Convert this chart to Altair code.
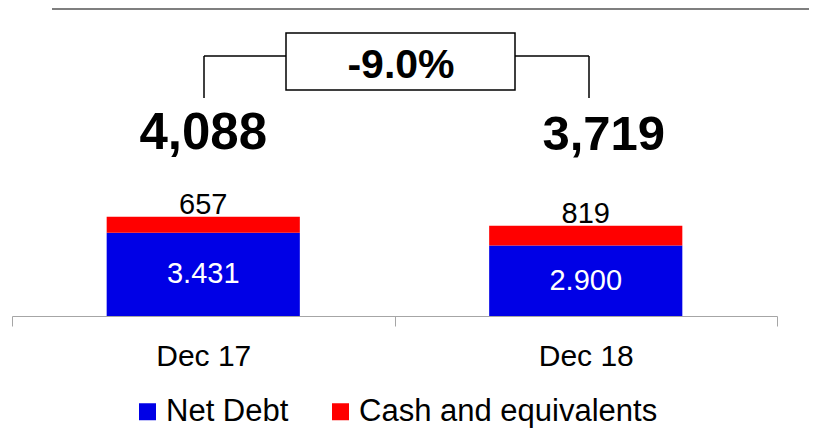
import altair as alt
import pandas as pd

# ---- data ----
categories = ["Dec 17", "Dec 18"]
net_debt = [3431, 2900]
cash = [657, 819]
totals = [4088, 3719]
net_debt_labels = ["3.431", "2.900"]
cash_labels = ["657", "819"]
total_labels = ["4,088", "3,719"]
change_label = "-9.0%"
series = ["Net Debt", "Cash and equivalents"]
colors = ["#0000E6", "#FF0000"]

FONT = "Liberation Sans"

rows = []
for i, c in enumerate(categories):
    rows.append({"cat": c, "series": series[0], "value": net_debt[i], "ord": 0})
    rows.append({"cat": c, "series": series[1], "value": cash[i], "ord": 1})
bars_df = pd.DataFrame(rows)

lab_df = pd.DataFrame({
    "cat": categories,
    "net": net_debt,
    "mid": [v / 2 for v in net_debt],
    "total": totals,
    "net_lab": net_debt_labels,
    "cash_lab": cash_labels,
    "tot_lab": total_labels,
})

x_enc = alt.X(
    "cat:N",
    sort=categories,
    scale=alt.Scale(paddingInner=0, paddingOuter=0),
    axis=alt.Axis(
        title=None, labelAngle=0, labelFont=FONT, labelFontSize=30,
        labelColor="#000000", domainColor="#A6A6A6", tickColor="#A6A6A6",
        tickSize=10, tickBand="extent", labelPadding=15, grid=False,
        domainWidth=1, tickWidth=1,
    ),
)
y_scale = alt.Scale(domain=[0, 12525])

bars = alt.Chart(bars_df).mark_bar(width={"band": 0.505}).encode(
    x=x_enc,
    y=alt.Y("value:Q", stack="zero", scale=y_scale, axis=None),
    color=alt.Color(
        "series:N",
        scale=alt.Scale(domain=series, range=colors),
        legend=alt.Legend(
            title=None, orient="none", direction="horizontal",
            legendX=120, legendY=384, symbolType="square", symbolSize=289,
            symbolStrokeWidth=0, labelFont=FONT, labelFontSize=31,
            labelColor="#000000", labelOffset=3, columnPadding=36,
            padding=0, symbolOpacity=1, labelLimit=0,
        ),
    ),
    order=alt.Order("ord:Q", sort="ascending"),
)

base = alt.Chart(lab_df).encode(x=alt.X("cat:N", sort=categories))

net_text = base.mark_text(
    font=FONT, fontSize=29, color="white", baseline="middle"
).encode(y=alt.Y("mid:Q", scale=y_scale), text="net_lab:N")

cash_text = base.mark_text(
    font=FONT, fontSize=29, color="black", baseline="alphabetic", dy=-3
).encode(y=alt.Y("total:Q", scale=y_scale), text="cash_lab:N")

tot17 = base.transform_filter(alt.datum.cat == categories[0]).mark_text(
    font=FONT, fontSize=51, fontWeight="bold", color="black", baseline="alphabetic"
).encode(y=alt.value(137), text="tot_lab:N")

tot18 = base.transform_filter(alt.datum.cat == categories[1]).mark_text(
    font=FONT, fontSize=49, fontWeight="bold", color="black", baseline="alphabetic", dx=18
).encode(y=alt.value(138), text="tot_lab:N")

# decorative annotation (bracket, box, top line)
top_line = alt.Chart(pd.DataFrame({"a": [0]})).mark_rule(
    color="#555555", strokeWidth=1.5
).encode(x=alt.value(40), x2=alt.value(798), y=alt.value(-3))

br_h = alt.Chart(pd.DataFrame({"a": [0]})).mark_rule(
    color="black", strokeWidth=1.5
).encode(x=alt.value(192), x2=alt.value(577), y=alt.value(44))

br_v = alt.Chart(pd.DataFrame({"xp": [192, 577]})).mark_rule(
    color="black", strokeWidth=1.5
).encode(x=alt.X("xp:Q", scale=None), y=alt.value(44), y2=alt.value(86))

box = alt.Chart(pd.DataFrame({"a": [0]})).mark_rect(
    fill="white", stroke="black", strokeWidth=1.5
).encode(x=alt.value(274), x2=alt.value(503), y=alt.value(21), y2=alt.value(78))

pct = alt.Chart(pd.DataFrame({"t": [change_label]})).mark_text(
    font=FONT, fontSize=41, fontWeight="bold", color="black", baseline="alphabetic"
).encode(x=alt.value(389), y=alt.value(66), text="t:N")

chart = alt.layer(
    bars, net_text, cash_text, tot17, tot18, top_line, br_h, br_v, box, pct
).properties(
    width=765, height=304,
    autosize=alt.AutoSizeParams(type="none"),
    padding={"left": 4, "top": 4, "right": 32, "bottom": 116},
).configure_view(stroke=None)

chart.save("out.html", embed_options={"renderer": "svg", "actions": False})
